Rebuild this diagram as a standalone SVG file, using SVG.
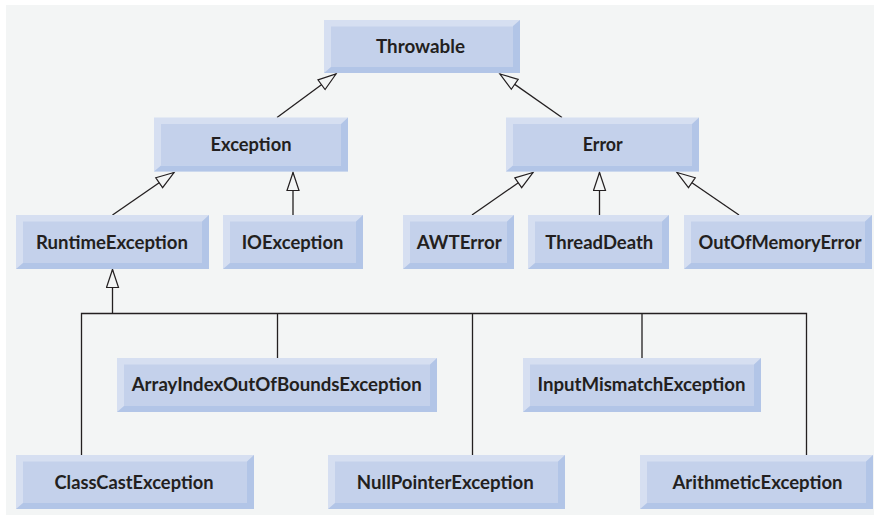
<svg xmlns="http://www.w3.org/2000/svg" width="874" height="518" viewBox="0 0 874 518">
<style>
.lt{fill:#d6dff1}
.dk{fill:#b2c5e7}
.fc{fill:#c4d1eb}
.lbl{font-family:Lato,"Open Sans","DejaVu Sans",sans-serif;font-weight:bold;font-size:18px;fill:#231f20;text-anchor:middle}
.cn{stroke:#231f20;stroke-width:1.3;fill:none}
</style>
<defs>
<marker id="tri" markerWidth="22" markerHeight="16" refX="19" refY="7" orient="auto" markerUnits="userSpaceOnUse">
<path d="M1,1 L19,7 L1,13 Z" fill="#f3f5f5" stroke="#231f20" stroke-width="1.2"/>
</marker>
</defs>
<rect x="6" y="5" width="868" height="510" fill="#f3f5f5"/>
<g id="connectors">
<line class="cn" x1="277" y1="117.5" x2="336" y2="74" marker-end="url(#tri)"/>
<line class="cn" x1="562" y1="117.5" x2="500" y2="74" marker-end="url(#tri)"/>
<line class="cn" x1="112.5" y1="215" x2="174" y2="172.5" marker-end="url(#tri)"/>
<line class="cn" x1="293" y1="215" x2="293" y2="172.5" marker-end="url(#tri)"/>
<line class="cn" x1="472" y1="215" x2="533" y2="172.5" marker-end="url(#tri)"/>
<line class="cn" x1="599.5" y1="215" x2="599.5" y2="172.5" marker-end="url(#tri)"/>
<line class="cn" x1="739" y1="215" x2="677" y2="172.5" marker-end="url(#tri)"/>
<line class="cn" x1="112.5" y1="313.5" x2="112.5" y2="269.5" marker-end="url(#tri)"/>
<path class="cn" d="M81.5,455 V313.5 H806.5 V455 M277.5,313.5 V358 M472.5,313.5 V455 M642,313.5 V358"/>
</g>
<g id="throwable">
<rect class="lt" x="324" y="20" width="196" height="53"/>
<path class="dk" d="M520,20 V73 H324 L331,67 H513 V26 Z"/>
<rect class="fc" x="331" y="26.5" width="182" height="40.5"/>
<text class="lbl" x="420.5" y="53" textLength="89" lengthAdjust="spacingAndGlyphs">Throwable</text>
</g>
<g id="exception">
<rect class="lt" x="154" y="117.5" width="194" height="54"/>
<path class="dk" d="M348,117.5 V171.5 H154 L161,165.5 H341 V124 Z"/>
<rect class="fc" x="161" y="124" width="180" height="41.5"/>
<text class="lbl" x="251" y="151" textLength="81" lengthAdjust="spacingAndGlyphs">Exception</text>
</g>
<g id="error">
<rect class="lt" x="506" y="117.5" width="193" height="54"/>
<path class="dk" d="M699,117.5 V171.5 H506 L513,165.5 H692 V124 Z"/>
<rect class="fc" x="513" y="124" width="179" height="41.5"/>
<text class="lbl" x="602.7" y="151" textLength="40" lengthAdjust="spacingAndGlyphs">Error</text>
</g>
<g id="runtimeexception">
<rect class="lt" x="16" y="215" width="193" height="54"/>
<path class="dk" d="M209,215 V269 H16 L23,263 H202 V221.5 Z"/>
<rect class="fc" x="23" y="221.5" width="179" height="41.5"/>
<text class="lbl" x="112" y="249" textLength="152" lengthAdjust="spacingAndGlyphs">RuntimeException</text>
</g>
<g id="ioexception">
<rect class="lt" x="223" y="215" width="140" height="54"/>
<path class="dk" d="M363,215 V269 H223 L230,263 H356 V221.5 Z"/>
<rect class="fc" x="230" y="221.5" width="126" height="41.5"/>
<text class="lbl" x="292.5" y="249" textLength="101.7" lengthAdjust="spacingAndGlyphs">IOException</text>
</g>
<g id="awterror">
<rect class="lt" x="403" y="215" width="111" height="54"/>
<path class="dk" d="M514,215 V269 H403 L410,263 H507 V221.5 Z"/>
<rect class="fc" x="410" y="221.5" width="97" height="41.5"/>
<text class="lbl" x="459.2" y="249" textLength="85" lengthAdjust="spacingAndGlyphs">AWTError</text>
</g>
<g id="threaddeath">
<rect class="lt" x="528" y="215" width="141" height="54"/>
<path class="dk" d="M669,215 V269 H528 L535,263 H662 V221.5 Z"/>
<rect class="fc" x="535" y="221.5" width="127" height="41.5"/>
<text class="lbl" x="599.3" y="249" textLength="108" lengthAdjust="spacingAndGlyphs">ThreadDeath</text>
</g>
<g id="outofmemoryerror">
<rect class="lt" x="684" y="215" width="188" height="54"/>
<path class="dk" d="M872,215 V269 H684 L691,263 H865 V221.5 Z"/>
<rect class="fc" x="691" y="221.5" width="174" height="41.5"/>
<text class="lbl" x="780" y="249" textLength="163" lengthAdjust="spacingAndGlyphs">OutOfMemoryError</text>
</g>
<g id="arrayindexoutofboundsexception">
<rect class="lt" x="117" y="358" width="320" height="54"/>
<path class="dk" d="M437,358 V412 H117 L124,406 H430 V364.5 Z"/>
<rect class="fc" x="124" y="364.5" width="306" height="41.5"/>
<text class="lbl" x="276.7" y="391" textLength="290" lengthAdjust="spacingAndGlyphs">ArrayIndexOutOfBoundsException</text>
</g>
<g id="inputmismatchexception">
<rect class="lt" x="523" y="358" width="238" height="54"/>
<path class="dk" d="M761,358 V412 H523 L530,406 H754 V364.5 Z"/>
<rect class="fc" x="530" y="364.5" width="224" height="41.5"/>
<text class="lbl" x="641.5" y="391" textLength="208" lengthAdjust="spacingAndGlyphs">InputMismatchException</text>
</g>
<g id="classcastexception">
<rect class="lt" x="16" y="455" width="238" height="54"/>
<path class="dk" d="M254,455 V509 H16 L23,503 H247 V461.5 Z"/>
<rect class="fc" x="23" y="461.5" width="224" height="41.5"/>
<text class="lbl" x="134" y="489" textLength="159" lengthAdjust="spacingAndGlyphs">ClassCastException</text>
</g>
<g id="nullpointerexception">
<rect class="lt" x="328" y="455" width="237" height="54"/>
<path class="dk" d="M565,455 V509 H328 L335,503 H558 V461.5 Z"/>
<rect class="fc" x="335" y="461.5" width="223" height="41.5"/>
<text class="lbl" x="445.3" y="489" textLength="177" lengthAdjust="spacingAndGlyphs">NullPointerException</text>
</g>
<g id="arithmeticexception">
<rect class="lt" x="640" y="455" width="233" height="54"/>
<path class="dk" d="M873,455 V509 H640 L647,503 H866 V461.5 Z"/>
<rect class="fc" x="647" y="461.5" width="219" height="41.5"/>
<text class="lbl" x="757.5" y="489" textLength="170" lengthAdjust="spacingAndGlyphs">ArithmeticException</text>
</g>
</svg>
